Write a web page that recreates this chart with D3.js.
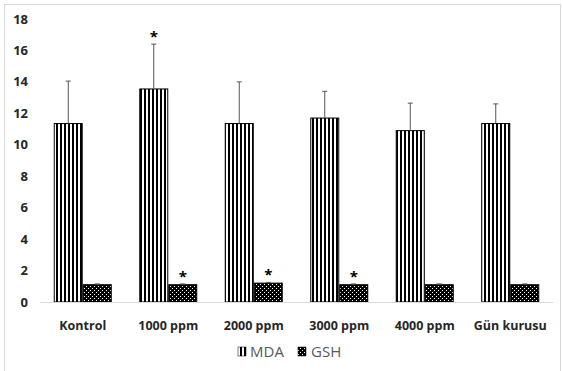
<!DOCTYPE html>
<html><head><meta charset="utf-8">
<script src="https://cdn.jsdelivr.net/npm/d3@7"></script>
<style>body{margin:0;background:#fff}svg{display:block}</style>
</head><body>
<svg id="c" width="563" height="371"></svg>
<script>
const categories = ["Kontrol","1000 ppm","2000 ppm","3000 ppm","4000 ppm","Gün kurusu"];
const seriesNames = ["MDA","GSH"];
const mdaValues = [11.35, 13.55, 11.35, 11.7, 10.9, 11.35];
const mdaErrors = [2.7, 2.85, 2.65, 1.7, 1.75, 1.25];
const gshValues = [1.1, 1.1, 1.2, 1.1, 1.1, 1.1];
const gshErrors = [0.05, 0.05, 0.05, 0.05, 0.05, 0.05];
const mdaStars = [false, true, false, false, false, false];
const gshStars = [false, true, true, true, false, false];
const yTicks = [0,2,4,6,8,10,12,14,16,18];

const svg = d3.select("#c");
const defs = svg.append("defs");
const p1 = defs.append("pattern").attr("id","stripes").attr("patternUnits","userSpaceOnUse")
  .attr("width",4).attr("height",4);
p1.append("rect").attr("width",4).attr("height",4).attr("fill","#fff");
p1.append("rect").attr("width",2).attr("height",4).attr("fill","#000");
const p2 = defs.append("pattern").attr("id","dots").attr("patternUnits","userSpaceOnUse")
  .attr("width",4).attr("height",4);
p2.append("rect").attr("width",4).attr("height",4).attr("fill","#000");
p2.append("rect").attr("x",0).attr("y",0).attr("width",1).attr("height",1).attr("fill","#fff");
p2.append("rect").attr("x",2).attr("y",2).attr("width",1).attr("height",1).attr("fill","#fff");

svg.append("rect").attr("x",4.5).attr("y",4.5).attr("width",556).attr("height",380)
  .attr("fill","none").attr("stroke","#d9d9d9");

const x = d3.scaleBand().domain(categories).range([40,553]);
const y = d3.scaleLinear().domain([0,18]).range([302,19]);
const bw = 29;
const fam = "'Open Sans', sans-serif";

// y axis labels
svg.append("g").selectAll("text").data(yTicks).join("text")
  .attr("x",28).attr("y",d=>y(d)).attr("dy","0.35em").attr("text-anchor","end")
  .attr("font-family",fam).attr("font-weight","bold").attr("font-size",13)
  .attr("fill","#262626").text(d=>d);

const g = svg.append("g");
categories.forEach((c,i)=>{
  const cx = x(c) + x.bandwidth()/2;
  const bars = [
    {v:mdaValues[i], e:mdaErrors[i], s:mdaStars[i], x0:cx-bw, fill:"url(#stripes)"},
    {v:gshValues[i], e:gshErrors[i], s:gshStars[i], x0:cx, fill:"url(#dots)"}
  ];
  bars.forEach(b=>{
    g.append("rect").attr("x",b.x0+0.5).attr("y",y(b.v)).attr("width",bw-1).attr("height",y(0)-y(b.v))
      .attr("fill",b.fill).attr("stroke","#000").attr("stroke-width",1);
    const mx = b.x0 + bw/2;
    g.append("line").attr("x1",mx).attr("x2",mx).attr("y1",y(b.v)).attr("y2",y(b.v+b.e))
      .attr("stroke","#555").attr("stroke-width",1);
    g.append("line").attr("x1",mx-2.5).attr("x2",mx+2.5).attr("y1",y(b.v+b.e)).attr("y2",y(b.v+b.e))
      .attr("stroke","#555").attr("stroke-width",1);
    if(b.s){
      g.append("text").attr("x",mx).attr("y",y(b.v+b.e)-2).attr("text-anchor","middle")
        .attr("font-family",fam).attr("font-weight","bold").attr("font-size",15).attr("fill","#000").text("*");
    }
  });
});

svg.append("line").attr("x1",40).attr("x2",553).attr("y1",302.5).attr("y2",302.5)
  .attr("stroke","#d9d9d9").attr("stroke-width",1);

svg.append("g").selectAll("text").data(categories).join("text")
  .attr("x",d=>x(d)+x.bandwidth()/2).attr("y",326).attr("dy","0.35em").attr("text-anchor","middle")
  .attr("font-family",fam).attr("font-weight","bold").attr("font-size",12.5)
  .attr("fill","#262626").text(d=>d);

// legend
const leg = [{n:seriesNames[0], f:"url(#stripes)", sx:238, tx:250},{n:seriesNames[1], f:"url(#dots)", sx:298, tx:311}];
leg.forEach(l=>{
  svg.append("rect").attr("x",l.sx).attr("y",347).attr("width",8).attr("height",9).attr("fill",l.f).attr("stroke","#000").attr("stroke-width",0.5);
  svg.append("text").attr("x",l.tx).attr("y",352).attr("dy","0.35em").attr("font-family",fam)
    .attr("font-size",15).attr("fill","#595959").text(l.n);
});
</script>
</body></html>
